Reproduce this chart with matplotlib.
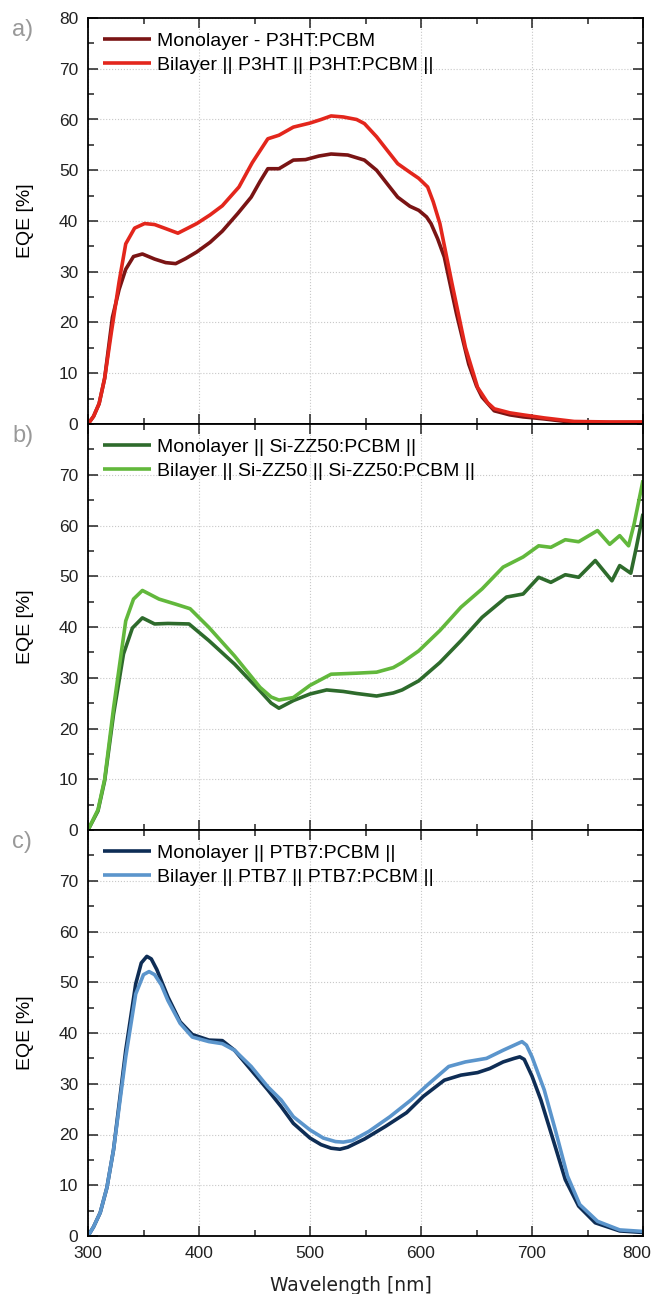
import matplotlib.pyplot as plt
import matplotlib.transforms as mtransforms
from matplotlib.ticker import MultipleLocator

plt.rcParams['font.family'] = ['Liberation Sans', 'DejaVu Sans']

# --- panel a: P3HT ---
wl_a_mono = [300, 305, 310, 315, 322, 328, 334, 341, 349, 360, 370, 379, 388, 398, 410, 421, 435, 447, 455, 462,
             472, 485, 496, 508, 519, 534, 549, 560, 570, 579, 590, 598, 605, 609, 615, 621, 632, 643, 650, 655,
             666, 680, 692, 711, 738, 770, 800]
eqe_a_mono = [0, 1.5, 4, 9, 21, 26.5, 30.5, 33, 33.5, 32.5, 31.8, 31.6, 32.6, 33.9, 35.8, 38, 41.5, 44.7, 47.8,
              50.3, 50.3, 52, 52.1, 52.8, 53.2, 53, 52, 50, 47.2, 44.7, 42.9, 42.1, 40.8, 39.5, 36.5, 32.9, 21.7,
              11.8, 7.5, 5.3, 2.6, 1.8, 1.4, 1, 0.3, 0.3, 0.3]
wl_a_bi = [300, 305, 310, 315, 321, 328, 334, 342, 351, 360, 370, 381, 390, 398, 410, 421, 436, 448, 462, 472,
           485, 500, 510, 519, 530, 542, 549, 560, 570, 579, 590, 598, 606, 611, 617, 628, 640, 651, 660, 666,
           680, 692, 711, 738, 770, 800]
eqe_a_bi = [0, 1.5, 4, 9, 18, 28, 35.5, 38.6, 39.5, 39.3, 38.5, 37.6, 38.6, 39.5, 41.2, 43, 46.7, 51.5, 56.2,
            56.9, 58.5, 59.3, 60, 60.7, 60.5, 60, 59.2, 56.6, 53.8, 51.3, 49.6, 48.4, 46.7, 43.8, 39.5, 27.6, 15.1,
            7.2, 4.2, 3, 2.2, 1.8, 1.2, 0.5, 0.4, 0.4]

# --- panel b: Si-ZZ50 ---
wl_b_mono = [300, 309, 315, 323, 332, 340, 349, 360, 372, 391, 409, 432, 455, 465, 472, 485, 500, 515, 530, 542,
             560, 575, 583, 598, 617, 636, 655, 677, 692, 706, 717, 730, 742, 757, 772, 779, 789, 794, 800]
eqe_b_mono = [0, 3.75, 9.7, 22.8, 34.7, 39.8, 41.8, 40.6, 40.7, 40.6, 37.3, 32.7, 27.4, 25, 24, 25.5, 26.8, 27.6,
              27.3, 26.9, 26.4, 27, 27.6, 29.4, 33, 37.3, 41.9, 45.9, 46.5, 49.8, 48.8, 50.3, 49.8, 53.1, 49.1, 52.1,
              50.6, 55.7, 62.3]
wl_b_bi = [300, 309, 315, 323, 334, 341, 349, 364, 379, 392, 409, 432, 455, 465, 472, 485, 500, 519, 542, 560,
           575, 583, 598, 617, 636, 655, 674, 692, 706, 717, 730, 742, 759, 770, 779, 787, 792, 800]
eqe_b_bi = [0, 4, 10, 24, 41.2, 45.5, 47.2, 45.5, 44.5, 43.6, 39.9, 34.3, 28.1, 26.2, 25.6, 26.1, 28.5, 30.7, 30.9,
            31.1, 32, 33, 35.3, 39.3, 43.9, 47.5, 51.8, 53.8, 56, 55.7, 57.2, 56.8, 59, 56.3, 58, 56, 60.3, 68.9]

# --- panel c: PTB7 ---
wl_c_mono = [300, 305, 311, 317, 323, 334, 343, 348, 353, 357, 362, 372, 383, 394, 409, 421, 432, 447, 462, 474,
             485, 500, 510, 519, 527, 534, 549, 568, 587, 602, 621, 636, 651, 662, 674, 684, 689, 693, 700, 708,
             719, 730, 742, 757, 779, 800]
eqe_c_mono = [0, 1.8, 4.6, 9.5, 17, 36.6, 49.7, 53.8, 55.1, 54.6, 52.5, 47.1, 42.2, 39.7, 38.6, 38.5, 36.6, 32.7,
              28.8, 25.5, 22.2, 19.3, 18, 17.3, 17.1, 17.5, 19.1, 21.6, 24.3, 27.5, 30.7, 31.7, 32.2, 33, 34.3, 35,
              35.3, 34.8, 31.5, 26.8, 19, 11.1, 5.9, 2.6, 1, 0.7]
wl_c_bi = [300, 305, 311, 317, 323, 334, 343, 350, 355, 360, 366, 372, 383, 394, 409, 421, 432, 447, 462, 474,
           485, 500, 512, 523, 530, 538, 553, 572, 591, 606, 625, 640, 659, 674, 686, 691, 695, 700, 711, 721,
           732, 743, 759, 779, 800]
eqe_c_bi = [0, 1.8, 4.6, 9.5, 17, 35.3, 47.7, 51.5, 52.1, 51.5, 49.5, 46.4, 41.9, 39.2, 38.3, 37.9, 36.6, 33.4,
            29.4, 26.8, 23.5, 20.9, 19.3, 18.6, 18.5, 18.8, 20.6, 23.5, 26.8, 29.8, 33.4, 34.3, 35, 36.6, 37.8,
            38.3, 37.6, 35.3, 28.8, 20.9, 11.8, 6.2, 2.9, 1.2, 0.9]

panels = [
    ('a)', [(wl_a_mono, eqe_a_mono, '#7a1414', 'Monolayer - P3HT:PCBM'),
            (wl_a_bi, eqe_a_bi, '#e3261c', 'Bilayer || P3HT || P3HT:PCBM ||')]),
    ('b)', [(wl_b_mono, eqe_b_mono, '#2e6b2c', 'Monolayer || Si-ZZ50:PCBM ||'),
            (wl_b_bi, eqe_b_bi, '#62b83c', 'Bilayer || Si-ZZ50 || Si-ZZ50:PCBM ||')]),
    ('c)', [(wl_c_mono, eqe_c_mono, '#0e2d55', 'Monolayer || PTB7:PCBM ||'),
            (wl_c_bi, eqe_c_bi, '#5b95cc', 'Bilayer || PTB7 || PTB7:PCBM ||')]),
]

fig = plt.figure(figsize=(6.54, 12.94), dpi=100)
left, width = 88 / 654, 555 / 654
tops = [18, 424, 830]
h = 406 / 1294

for i, (letter, series) in enumerate(panels):
    bottom = 1 - (tops[i] + 406) / 1294
    ax = fig.add_axes([left, bottom, width, h])
    for x, y, c, lab in series:
        ax.plot(x, y, color=c, lw=2.6, label=lab, solid_joinstyle='round', solid_capstyle='butt')
    ax.set_xlim(300, 800)
    ax.set_ylim(0, 80)
    ax.xaxis.set_major_locator(MultipleLocator(100))
    ax.xaxis.set_minor_locator(MultipleLocator(50))
    ax.yaxis.set_major_locator(MultipleLocator(10))
    ax.yaxis.set_minor_locator(MultipleLocator(5))
    ax.grid(True, which='major', ls=':', color='#c8c8c8', lw=0.8)
    ax.tick_params(which='both', direction='in', top=True, right=True, labelsize=12.5, colors='#222222')
    ax.tick_params(which='major', length=7, width=1.1)
    ax.tick_params(which='minor', length=4, width=1.1)
    ax.tick_params(axis='y', pad=7)
    ax.tick_params(axis='x', pad=7)
    for s in ax.spines.values():
        s.set_linewidth(1.3)
    ax.set_ylabel('EQE [%]', fontsize=14)
    ax.yaxis.set_label_coords(-0.097, 0.5)
    if i > 0:
        ax.set_yticks(range(0, 80, 10))
    if i < 2:
        ax.tick_params(labelbottom=False)
    else:
        ax.set_xlabel('Wavelength [nm]', fontsize=13.5, family='DejaVu Sans', color='#222222')
        ax.xaxis.set_label_coords(0.474, -0.098)
        ax.set_xticks(range(300, 801, 100))
        last = ax.get_xticklabels()[-1]
        last.set_horizontalalignment('right')
        last.set_transform(last.get_transform() + mtransforms.ScaledTranslation(0.08, 0, fig.dpi_scale_trans))
    ax.legend(loc='upper left', frameon=False, fontsize=14, handlelength=2.5, handletextpad=0.3,
              borderaxespad=0.45, labelspacing=0.3, borderpad=0.3)
    fig.text(12 / 654, 1 - (tops[i] + 12) / 1294, letter, fontsize=17, color='#999999', va='center')

fig.savefig('out.png', dpi=100, facecolor='white')
